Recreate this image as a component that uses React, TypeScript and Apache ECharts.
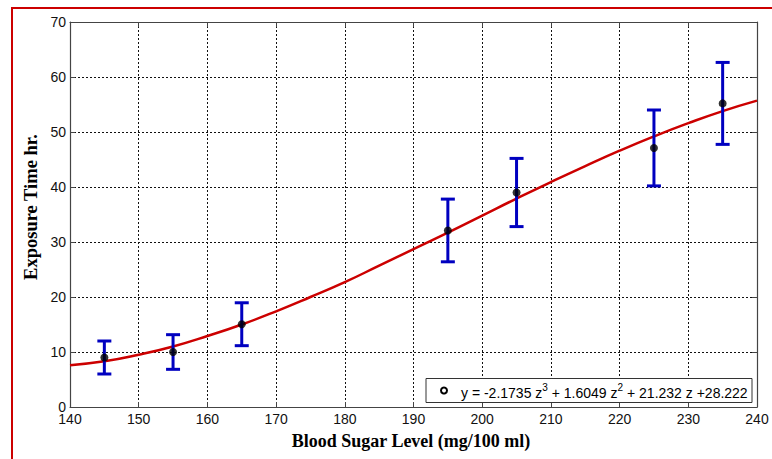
import React, { useEffect, useRef } from "react";
import * as echarts from "echarts";

const xValues = [145, 155, 165, 195, 205, 225, 235];
const meanValues = [9, 10, 15.05, 32.1, 39, 47.1, 55.2];
const errorValues = [3, 3.15, 3.9, 5.7, 6.2, 6.9, 7.45];

const curveX = [140, 145, 150, 155, 160, 165, 170, 175, 180, 185, 190, 195, 200, 205, 210, 215, 220, 225, 230, 235, 240];
const curveY = [7.6, 8.3, 9.5, 11.0, 12.9, 15.0, 17.4, 20.0, 22.7, 25.7, 28.7, 31.7, 34.8, 37.9, 40.9, 43.8, 46.6, 49.2, 51.6, 53.8, 55.7];

const xTicks = [140, 150, 160, 170, 180, 190, 200, 210, 220, 230, 240];
const yTicks = [0, 10, 20, 30, 40, 50, 60, 70];

const equationParts = ["y = -2.1735 z", "3", " + 1.6049 z", "2", " + 21.232 z +28.222"];

export default function App() {
  const ref = useRef<HTMLDivElement>(null);
  useEffect(() => {
    document.body.style.margin = "0";
    if (!ref.current) return;
    const chart = echarts.init(ref.current, null, { renderer: "svg" });
    const sans = "'Liberation Sans', Arial, sans-serif";
    const serif = "'Liberation Serif', 'Times New Roman', serif";
    const gridLine = { show: true, lineStyle: { color: "#111", type: [2, 2] as any, width: 1 } };
    const frameColor = "#444";
    const errData = xValues.map((x, i) => [x, meanValues[i] - errorValues[i], meanValues[i] + errorValues[i]]);
    chart.setOption({
      animation: false,
      backgroundColor: "#fff",
      grid: { left: 70, top: 22, right: 15, bottom: 52, show: false },
      xAxis: [
        {
          type: "value", min: xTicks[0], max: xTicks[xTicks.length - 1], interval: 10,
          axisLine: { show: true, lineStyle: { color: frameColor, width: 1.2 } },
          axisTick: { show: true, inside: true, length: 5, lineStyle: { color: frameColor } },
          axisLabel: { color: "#111", fontFamily: sans, fontSize: 14, margin: 5 },
          splitLine: gridLine,
        },
        {
          type: "value", position: "top", min: xTicks[0], max: xTicks[xTicks.length - 1], interval: 10,
          axisLine: { show: true, onZero: false, lineStyle: { color: frameColor, width: 1.2 } },
          axisTick: { show: true, inside: true, length: 5, lineStyle: { color: frameColor } },
          axisLabel: { show: false }, splitLine: { show: false },
        },
      ],
      yAxis: [
        {
          type: "value", min: yTicks[0], max: yTicks[yTicks.length - 1], interval: 10,
          axisLine: { show: true, lineStyle: { color: frameColor, width: 1.2 } },
          axisTick: { show: true, inside: true, length: 5, lineStyle: { color: frameColor } },
          axisLabel: { color: "#111", fontFamily: sans, fontSize: 14, margin: 4 },
          splitLine: gridLine,
        },
        {
          type: "value", position: "right", min: yTicks[0], max: yTicks[yTicks.length - 1], interval: 10,
          axisLine: { show: true, onZero: false, lineStyle: { color: frameColor, width: 1.2 } },
          axisTick: { show: true, inside: true, length: 5, lineStyle: { color: frameColor } },
          axisLabel: { show: false }, splitLine: { show: false },
        },
      ],
      series: [
        {
          type: "line",
          data: curveX.map((x, i) => [x, curveY[i]]),
          smooth: true,
          symbol: "none",
          lineStyle: { color: "#cc0000", width: 2.5 },
          z: 3,
        },
        {
          type: "custom",
          data: errData,
          z: 4,
          renderItem: (params: any, api: any) => {
            const x = api.value(0);
            const lo = api.coord([x, api.value(1)]);
            const hi = api.coord([x, api.value(2)]);
            const cap = 7;
            const style = { stroke: "#0000c0", lineWidth: 3 };
            return {
              type: "group",
              children: [
                { type: "line", shape: { x1: lo[0], y1: lo[1], x2: hi[0], y2: hi[1] }, style },
                { type: "line", shape: { x1: lo[0] - cap, y1: lo[1], x2: lo[0] + cap, y2: lo[1] }, style },
                { type: "line", shape: { x1: hi[0] - cap, y1: hi[1], x2: hi[0] + cap, y2: hi[1] }, style },
              ],
            };
          },
        },
        {
          type: "scatter",
          data: xValues.map((x, i) => [x, meanValues[i]]),
          symbol: "circle",
          symbolSize: 8,
          itemStyle: { color: "#000" },
          z: 5,
        },
      ],
      graphic: [
        {
          type: "polyline",
          shape: { points: [[12, 459], [12, 8], [772, 8]] },
          style: { stroke: "#cc0000", lineWidth: 2, fill: null },
        },
        {
          type: "rect",
          shape: { x: 426, y: 378.5, width: 326, height: 24 },
          style: { fill: "#fff", stroke: "#333", lineWidth: 1 },
          z: 10,
        },
        {
          type: "circle",
          shape: { cx: 444, cy: 390.5, r: 3 },
          style: { fill: "#fff", stroke: "#000", lineWidth: 2 },
          z: 11,
        },
        {
          type: "text",
          x: 461,
          y: 391,
          z: 11,
          style: {
            text: `{n|${equationParts[0]}}{s|${equationParts[1]}}{n|${equationParts[2]}}{s|${equationParts[3]}}{n|${equationParts[4]}}`,
            verticalAlign: "middle",
            rich: {
              n: { fontFamily: sans, fontSize: 14, fill: "#000", verticalAlign: "bottom", lineHeight: 17 },
              s: { fontFamily: sans, fontSize: 10, fill: "#000", verticalAlign: "top", lineHeight: 17, padding: [0, 0, 7, 0] },
            },
          },
        },
        {
          type: "text",
          x: 411,
          y: 441,
          style: {
            text: "Blood Sugar Level (mg/100 ml)",
            fontFamily: serif, fontWeight: "bold", fontSize: 18, fill: "#000",
            align: "center", verticalAlign: "middle",
          },
        },
        {
          type: "text",
          x: 31,
          y: 207,
          rotation: Math.PI / 2,
          style: {
            text: "Exposure Time hr.",
            fontFamily: serif, fontWeight: "bold", fontSize: 18.5, fill: "#000",
            align: "center", verticalAlign: "middle",
          },
        },
      ],
    });
    return () => chart.dispose();
  }, []);
  return <div ref={ref} style={{ width: 772, height: 459 }} />;
}
